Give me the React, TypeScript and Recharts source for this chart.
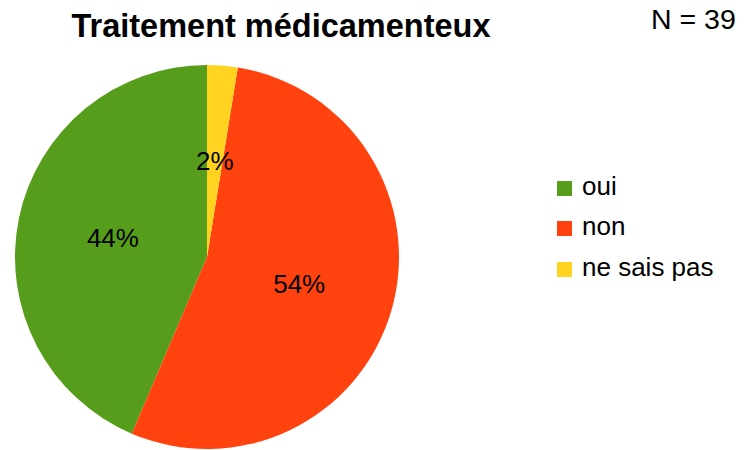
import React from "react";
import { PieChart, Pie, Cell, Legend } from "recharts";

const categories = ["oui", "non", "ne sais pas"];
const counts = [17, 21, 1];
const percentLabels = ["44%", "54%", "2%"];
const colors = ["#579d1c", "#ff420e", "#ffd320"];

const chartData = categories.map((name, i) => ({
  name,
  value: counts[i],
  label: percentLabels[i],
}));

const RADIAN = Math.PI / 180;

const renderLabel = (props: any) => {
  const { cx, cy, midAngle, outerRadius, index } = props;
  const r = outerRadius * 0.5;
  const x = cx + r * Math.cos(-midAngle * RADIAN);
  const y = cy + r * Math.sin(-midAngle * RADIAN);
  return (
    <text
      x={x}
      y={y}
      fill="#000"
      textAnchor="middle"
      dominantBaseline="central"
      fontSize={26}
      fontFamily="Liberation Sans, Arial, sans-serif"
    >
      {percentLabels[index]}
    </text>
  );
};

const LegendContent = () => (
  <div style={{ fontFamily: "Liberation Sans, Arial, sans-serif", fontSize: 26 }}>
    {categories.map((c, i) => (
      <div
        key={c}
        style={{ display: "flex", alignItems: "center", height: 40.5, color: "#000" }}
      >
        <span
          style={{
            display: "inline-block",
            width: 15,
            height: 15,
            background: colors[i],
            marginRight: 10,
            marginTop: 4,
          }}
        />
        <span>{c}</span>
      </div>
    ))}
  </div>
);

const App: React.FC = () => {
  return (
    <div
      style={{
        position: "absolute",
        left: 0,
        top: 0,
        width: 754,
        height: 450,
        background: "#fff",
        fontFamily: "Liberation Sans, Arial, sans-serif",
      }}
    >
      <div
        style={{
          position: "absolute",
          left: 0,
          width: 562,
          top: 8,
          textAlign: "center",
          fontWeight: "bold",
          fontSize: 32.5,
          lineHeight: "36px",
          color: "#000",
        }}
      >
        Traitement médicamenteux
      </div>
      <div
        style={{
          position: "absolute",
          left: 651,
          top: 2,
          fontSize: 28.5,
          lineHeight: "34px",
          color: "#000",
        }}
      >
        N = 39
      </div>
      <PieChart
        width={754}
        height={450}
        margin={{ top: 0, right: 0, bottom: 0, left: 0 }}
      >
        <Pie
          data={chartData}
          dataKey="value"
          nameKey="name"
          cx={207}
          cy={257}
          outerRadius={192}
          startAngle={90}
          endAngle={450}
          stroke="none"
          label={renderLabel}
          labelLine={false}
          isAnimationActive={false}
        >
          {chartData.map((d, i) => (
            <Cell key={d.name} fill={colors[i]} />
          ))}
        </Pie>
        <Legend
          content={<LegendContent />}
          wrapperStyle={{ position: "absolute", left: 557, top: 166, width: 190 }}
        />
      </PieChart>
    </div>
  );
};

export default App;
